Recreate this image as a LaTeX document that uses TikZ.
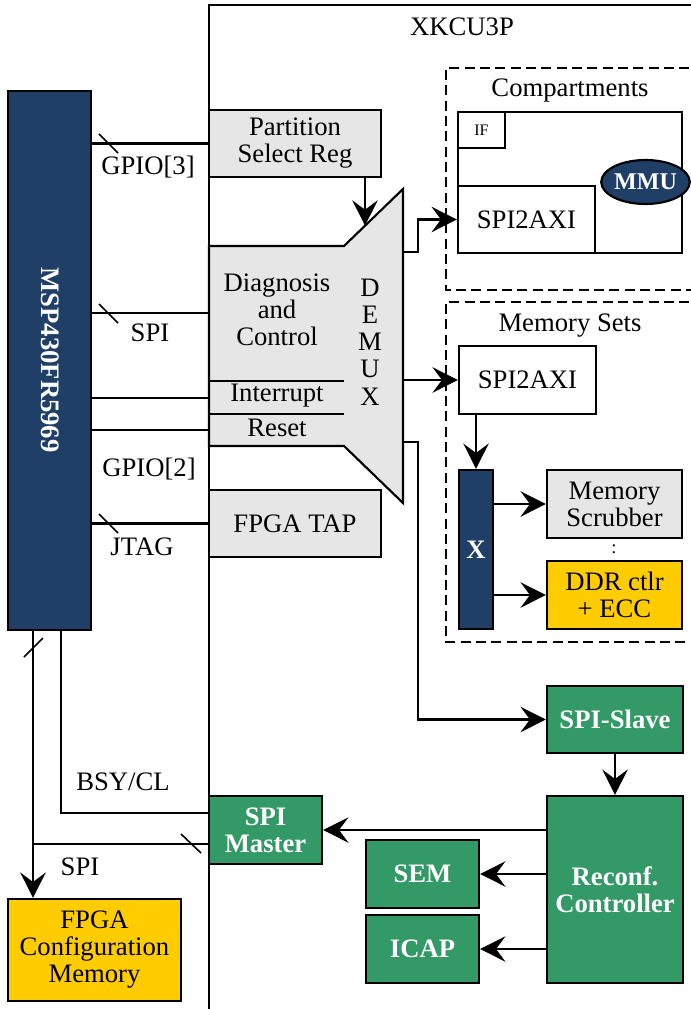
\documentclass[tikz,border=0pt]{standalone}
\usepackage{fontspec}
\setmainfont{Liberation Serif}
\usetikzlibrary{arrows.meta,calc,shapes.geometric}
\definecolor{dkblue}{RGB}{31,63,102}
\definecolor{ltgray}{RGB}{230,230,230}
\definecolor{grn}{RGB}{51,153,102}
\definecolor{ylw}{RGB}{255,204,0}
\tikzset{
  every node/.style={font=\fontsize{20}{20.25}\selectfont, inner sep=0pt, align=center},
  blk/.style={draw, line width=1.6pt, rectangle},
  grayblk/.style={blk, fill=ltgray},
  greenblk/.style={blk, fill=grn, text=white, font=\fontsize{20}{20.25}\selectfont\bfseries},
  yellowblk/.style={blk, fill=ylw},
  blueblk/.style={blk, fill=dkblue, text=white, font=\fontsize{20}{20.25}\selectfont\bfseries},
  wire/.style={line width=1.6pt},
  arr/.style={line width=1.6pt, -{Stealth[length=19pt,width=19pt,inset=7pt]}},
  dashbox/.style={line width=1.6pt, dash pattern=on 7.5pt off 4pt},
  tick/.style={line width=1.2pt},
  lbl/.style={}
}
\begin{document}
\begin{tikzpicture}[x=0.75pt,y=-0.75pt]
\useasboundingbox (0,0) rectangle (690,1009);
\fill[white] (0,0) rectangle (690,1009);
% FPGA boundary
\draw[wire] (720,5) -- (209,5) -- (209,1020);
\node[lbl] (xkcu) at (462,27) {XKCU3P};

% dashed regions
\draw[dashbox] (720,68) -- (446,68) -- (446,290) -- (720,290);
\draw[dashbox] (720,302) -- (446,302) -- (446,642) -- (720,642);
\node[lbl] (comptl) at (570,91) {Compartments};
\node[lbl] (memtl) at (570,326) {Memory Sets};

% MSP430
\node[blueblk, minimum width=62.25pt, minimum height=404.25pt] (msp) at (49.5,360.5) {};
\node[rotate=-90, text=white, font=\fontsize{20}{20.25}\selectfont\bfseries] (msptxt) at (50,360) {MSP430FR5969};

% left blocks
\node[grayblk, minimum width=129pt, minimum height=50.25pt] (psr) at (295,143.5) {Partition\\Select Reg};
\node[grayblk, minimum width=129pt, minimum height=50.25pt] (tap) at (295,523.5) {FPGA TAP};

% DEMUX shape
\coordinate (dA) at (344,246);
\coordinate (dB) at (403,189);
\coordinate (dC) at (403,503);
\coordinate (dD) at (344,446);
\filldraw[line width=1.6pt, fill=ltgray] (209,246) -- (dA) -- (dB) -- (dC) -- (dD) -- (209,446) -- cycle;
\draw[wire] (209,381) -- (344,381);
\draw[wire] (209,414) -- (344,414);
\node (diag) at (277,310) {Diagnosis\\and\\Control};
\node (intr) at (277,396) {Interrupt};
\node (rst) at (277,428) {Reset};
\node[font=\fontsize{20}{20.4}\selectfont] (demux) at (370,342) {D\\E\\M\\U\\X};
\coordinate (dmtop) at ($(dA)!{21/59}!(dB)$);
\coordinate (dm1) at (403,252);
\coordinate (dm2) at (403,380);
\coordinate (dm3) at (403,442);
\coordinate (dcspi) at (209,313);
\coordinate (dcint) at (209,398);
\coordinate (dcrst) at (209,430);

% compartments
\node[blk, fill=white, minimum width=168pt, minimum height=105.75pt] (compin) at (570,182.5) {};
\node[blk, minimum width=35.25pt, minimum height=27pt, font=\fontsize{12}{12}\selectfont] (ifb) at (481.5,130) {IF};
\node[blk, minimum width=102.75pt, minimum height=50.25pt] (s2a1) at (526.5,219.5) {SPI2AXI};
\node[ellipse, draw, line width=1.6pt, fill=dkblue, text=white, minimum width=54.75pt, minimum height=33pt, font=\fontsize{18}{18}\selectfont\bfseries] (mmu) at (645.5,182) {MMU};

% memory sets
\node[blk, minimum width=102.75pt, minimum height=51pt] (s2a2) at (527.5,380) {SPI2AXI};
\node[blueblk, minimum width=25.5pt, minimum height=119.25pt] (xbox) at (476,549.5) {X};
\node[grayblk, minimum width=101.25pt, minimum height=51pt] (scrub) at (614.5,504) {Memory\\Scrubber};
\node[yellowblk, minimum width=101.25pt, minimum height=51pt] (ddr) at (614.5,595) {DDR ctlr\\+ ECC};
\node[font=\fontsize{14}{14}\selectfont] (dots) at (614,549) {:};

% green blocks
\node[greenblk, minimum width=102pt, minimum height=50.25pt] (slave) at (615,719.5) {SPI-Slave};
\node[greenblk, minimum width=102pt, minimum height=140.25pt] (reconf) at (615,889.5) {Reconf.\\Controller};
\node[greenblk, minimum width=84.75pt, minimum height=51pt] (sem) at (422.5,874) {SEM};
\node[greenblk, minimum width=84.75pt, minimum height=51pt] (icap) at (422.5,949) {ICAP};
\node[greenblk, minimum width=84.75pt, minimum height=51pt] (master) at (265.5,830) {SPI\\Master};

% config memory
\node[yellowblk, minimum width=129.75pt, minimum height=76.5pt] (cfgmem) at (94.5,950) {FPGA\\Configuration\\Memory};

% MSP connections
\draw[wire] (msp.east |- psr.west) -- (psr.west);
\draw[wire] (msp.east |- dcspi) -- (dcspi);
\draw[wire] (msp.east |- dcint) -- (dcint);
\draw[wire] (msp.east |- dcrst) -- (dcrst);
\draw[wire] (msp.east |- tap.west) -- (tap.west);
\draw[tick] (99,134) -- (118,153);
\draw[tick] (99,304) -- (118,323);
\draw[tick] (99,514) -- (118,533);
\node (gpio3) at (148,167) {GPIO[3]};
\node (spil) at (150,333) {SPI};
\node (gpio2) at (149,469) {GPIO[2]};
\node (jtag) at (142,547) {JTAG};

% bottom MSP connections
\draw[wire] (msp.south -| 61,0) |- ([yshift=12.75pt]master.west);
\draw[arr] (msp.south -| 33,0) -- (cfgmem.north -| 33,0);
\draw[wire] (33,844) -- ([yshift=-10.5pt]master.west);
\draw[tick] (24,657) -- (43,638);
\draw[tick] (181,834) -- (201,853);
\node (bsy) at (123,782) {BSY/CL};
\node (spib) at (80,867) {SPI};

% internal arrows
\draw[arr] (psr.south -| dmtop) -- (dmtop);
\draw[arr] (dm1) -- ++(15,0) |- (s2a1.west);
\draw[arr] (dm2) -- (s2a2.west);
\draw[arr] (dm3) -- ++(15,0) |- (slave.west);
\draw[arr] (s2a2.south -| xbox.north) -- (xbox.north);
\draw[arr] (xbox.east |- scrub.west) -- (scrub.west);
\draw[arr] (xbox.east |- ddr.west) -- (ddr.west);
\draw[arr] (slave.south) -- (reconf.north);
\draw[arr] (reconf.west |- master.east) -- (master.east);
\draw[arr] (reconf.west |- sem.east) -- (sem.east);
\draw[arr] (reconf.west |- icap.east) -- (icap.east);
\end{tikzpicture}
\end{document}
